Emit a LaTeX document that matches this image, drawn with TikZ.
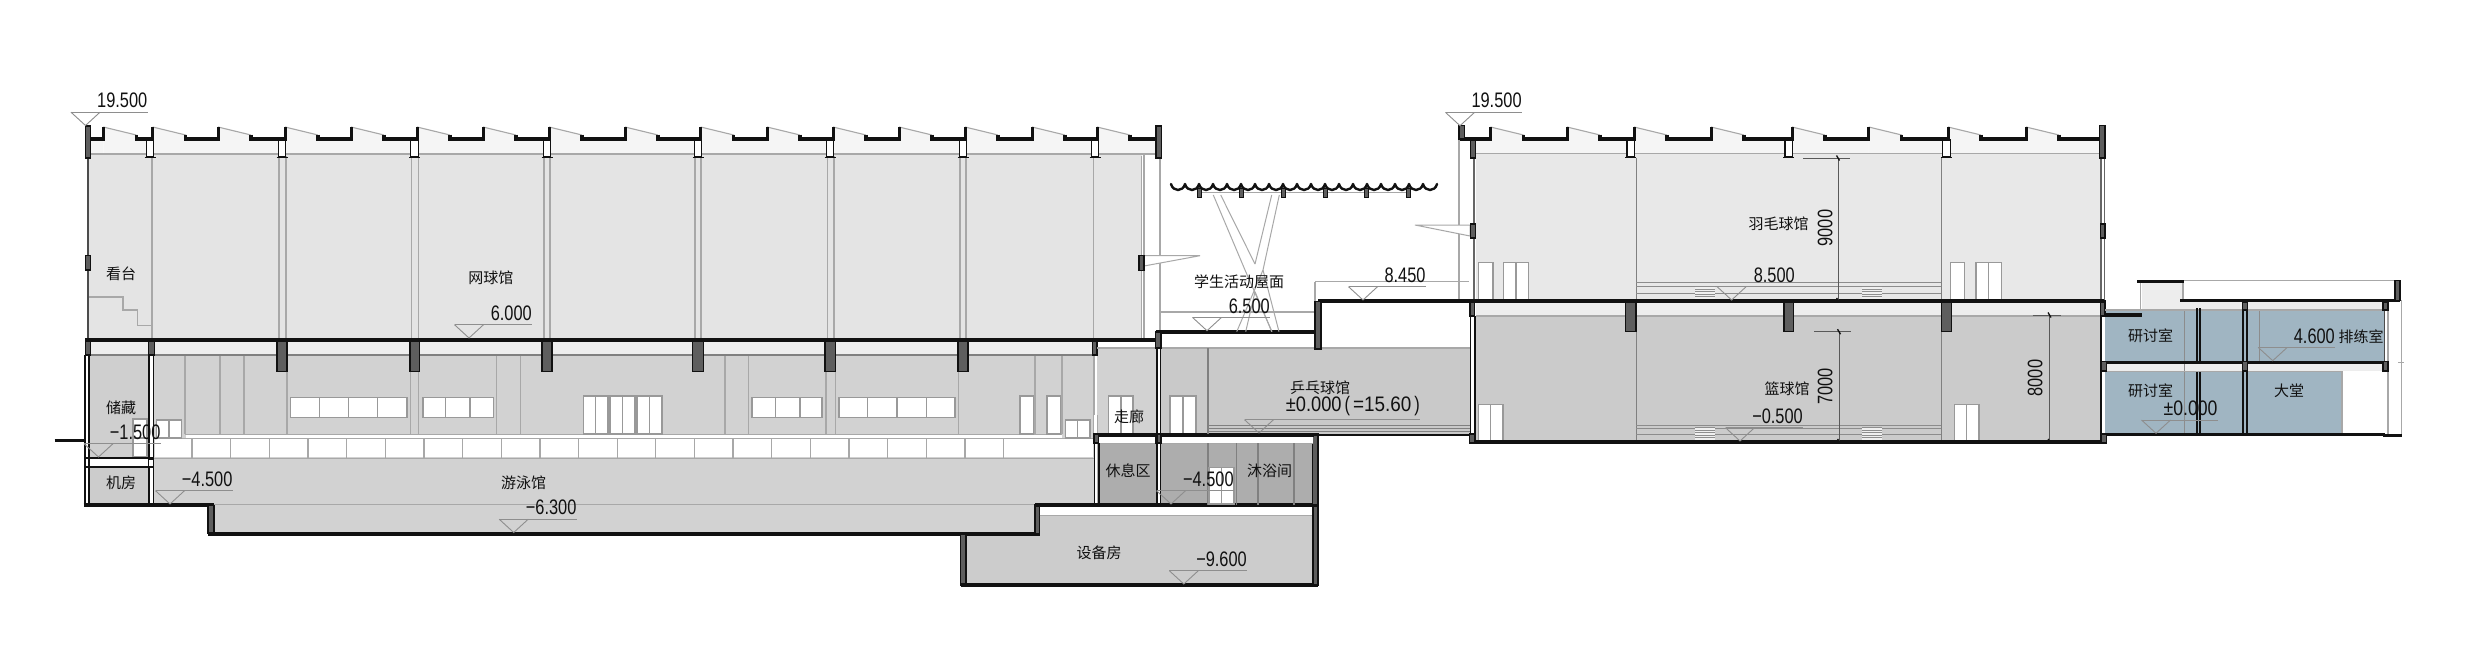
\documentclass[tikz,border=0pt]{standalone}
\usepackage{graphicx}
\usepackage{fontspec}
\setmainfont{Liberation Sans}
\newfontfamily\cjk{Noto Sans CJK SC}
\definecolor{gln}{HTML}{A8A8A8}
\definecolor{glt}{HTML}{8E8E8E}
\definecolor{pierc}{HTML}{5E5E5E}
\definecolor{wln}{HTML}{999999}
\definecolor{inkc}{HTML}{111111}
\definecolor{bluer}{HTML}{A0B5C2}
\tikzset{
  gl/.style={draw=gln,line width=1.3pt},
  gt/.style={draw=glt,line width=0.8pt},
  blk/.style={draw=inkc,line width=3.5pt,line cap=butt,line join=miter},
  dbl/.style={draw=inkc,line width=1.8pt},
  pier/.style={fill=pierc,draw=inkc,line width=1.2pt},
  win/.style={fill=white,draw=wln,line width=1.5pt},
  lab/.style={font=\cjk\fontsize{15}{15}\selectfont,text=inkc,inner sep=0pt},
  lvl/.style={font=\fontsize{21}{21}\selectfont,text=inkc,inner sep=0pt},
}
\newcommand{\cond}[1]{\scalebox{0.78}[1]{#1}}
\newcommand{\lev}[5]{% name, apex x, apex y, right x, text
  \draw[gt,line width=0.9pt] ({#2-14.5},{#3-13.3})--(#2,#3)--({#2+14.5},{#3-13.3});
  \draw[gt,line width=0.9pt] ({#2-14.5},{#3-13.3})--(#4,{#3-13.3});
  \node[lvl,anchor=south east] (#1) at (#4,{#3-17.3}) {#5};}
\newcommand{\lab}[4]{\node[lab] (#1) at (#2,#3) {#4};}
\newcommand{\saw}[3]{% peak, next peak, ceiling
  \fill[black!4] (#1,127)--({#1+33},135)--({#1+33},139)--(#2,139)--(#2,#3)--(#1,#3)--cycle;
  \draw[gl,line width=1.1pt] (#1,127)--({#1+33},135);
  \draw[draw=inkc,line width=3.4pt,line join=miter] ({#1+33},134.5)--({#1+33},139)--(#2,139);}
\newcommand{\tooth}[1]{\draw[draw=inkc,line width=3pt] (#1,140.7)--(#1,127);}
\newcommand{\truss}[1]{%
  \draw[fill=white,draw=inkc,line width=1.2pt] ({#1-3.8},140)rectangle({#1+3.8},157);
  \draw[draw=inkc,line width=1.8pt] ({#1-5.5},157.5)--({#1+5.5},157.5);}
\newcommand{\beam}[3]{\draw[pier] (#1,340) rectangle (#2,#3);}
\newcommand{\hatchbox}[4]{%
  \fill[black!6] (#1,#3) rectangle (#2,#4);
  \pgfmathsetmacro{\hsec}{#3+2.5}
  \foreach \yy in {#3,\hsec,...,#4}{\draw[gt,line width=0.6pt] (#1,\yy)--(#2,\yy);}}
\begin{document}
\begin{tikzpicture}[x=1pt,y=-1pt]
\useasboundingbox (0,0) rectangle (2480,654);
\fill[white] (0,0) rectangle (2480,654);
% ---------- large fills
\fill[black!10.5] (89,154) rectangle (1142,338);
\fill[black!6.5] (89,341) rectangle (1094,355);
\fill[black!17.5] (153,355) rectangle (1094,505);
\fill[black!17.5] (214,505) rectangle (1035,534);
\fill[black!19] (88,355) rectangle (149,458);
\fill[black!20] (88,467) rectangle (149,505);
\fill[black!17.5] (1097,348) rectangle (1156,434);
\fill[black!21] (1161,348) rectangle (1470,434);
\fill[black!32] (1097,443) rectangle (1156,505);
\fill[black!32] (1161,443) rectangle (1313,505);
\fill[black!20] (966,534) rectangle (1313,585);
\fill[black!20] (1039,515) rectangle (1313,534);
\fill[black!9] (1476,153) rectangle (2100,300);
\fill[black!7] (1476,302) rectangle (2100,316);
\fill[black!20.5] (1476,316) rectangle (2100,441);
% right block
\fill[bluer] (2105,310) rectangle (2385,361);
\fill[bluer] (2105,371) rectangle (2342,433);
\fill[black!7] (2105,364) rectangle (2385,371);
\fill[black!7] (2141.7,302) rectangle (2385,310);
\fill[black!7] (2141.7,283) rectangle (2182,302);
% ---------- roofs: tennis
\foreach \p/\n in {103.3/152.7,152.7/218,218/285,285/351,351/417,417/483,483/549,549/625,625/700.7,700.7/767,767/833,833/899,899/965,965/1032,1032/1097}{\saw{\p}{\n}{154}}
\saw{1097}{1157}{154}
\fill[black!4] (88,140) rectangle (103.3,154);
\draw[draw=inkc,line width=3.4pt] (87,139)--(103.3,139);
\foreach \p in {103.3,152.7,218,285,351,417,483,549,625,700.7,767,833,899,965,1032,1097}{\tooth{\p}}
\draw[gl] (89,154)--(1157,154);
% roofs: gym
\foreach \p/\n in {1490.5/1567,1567/1634,1634/1711,1711/1792,1792/1868.7,1868.7/1948,1948/2026}{\saw{\p}{\n}{153.3}}
\saw{2026}{2100}{153.3}
\fill[black!4] (1476,140) rectangle (1490.5,153.3);
\draw[draw=inkc,line width=3.4pt] (1460,139)--(1490.5,139);
\foreach \p in {1490.5,1567,1634,1711,1792,1868.7,1948,2026}{\tooth{\p}}
\draw[gl,line width=1pt] (1476,153.3)--(2100,153.3);
% ---------- tennis verticals
\foreach \x in {152,279,286,411.7,418.4,544,550,695,701,827.5,834,960,966,1093.6,1141.8}{\draw[gl] (\x,156)--(\x,338);}
\draw[gl] (1144,154)--(1144,338);
\draw[gl] (1160,158)--(1160,332);
\foreach \x in {150,282,414.5,547,698,830,963,1095}{\truss{\x}}
% stand
\draw[gl] (89,297)--(123,297)--(123,310)--(137.7,310)--(137.7,325.3)--(152,325.3);
% outer left wall
\draw[dbl,draw=black!70,line width=2.4pt] (87.7,158)--(87.7,338);
\draw[pier] (85.5,126) rectangle (90.6,158);
\draw[pier] (85.5,255.7) rectangle (90.6,270);
\draw[pier] (1156,126) rectangle (1161.5,158);
% ---------- pool hall
\fill[white] (185.5,434.3) rectangle (1062,438.3);
\fill[white] (154.7,439.3) rectangle (1093,457.3);
\draw[gl,line width=1pt] (154,438.8)--(1094,438.8);
\draw[gl,line width=1pt] (154,458)--(1094,458);
\foreach \x in {192,230.65,...,1042}{\draw[gl] (\x,439)--(\x,458);}
\foreach \x in {185,220,244,287,410.5,418.8,496.7,520.4,725,748.3,826,835.3,958.3,1035,1062}{\draw[gl] (\x,355)--(\x,434);}
\draw[gl] (1094,348)--(1094,434);
\draw[gl,draw=black!50] (89,355)--(1094,355);
\draw[gl,line width=1pt] (185,434)--(1062,434);
% windows
\draw[win] (290.3,397.7) rectangle (407,417.7);
\foreach \x in {319.5,348.5,377.5}{\draw[wln,line width=1.2pt] (\x,397.7)--(\x,417.7);}
\draw[win] (422.8,397.7) rectangle (493.5,417.7);
\foreach \x in {445.5,470}{\draw[wln,line width=1.2pt] (\x,397.7)--(\x,417.7);}
\draw[win] (752,397.7) rectangle (822,417.7);
\foreach \x in {775.3,800}{\draw[wln,line width=1.2pt] (\x,397.7)--(\x,417.7);}
\draw[win] (839,397.7) rectangle (955,417.7);
\foreach \x in {867.7,897,926.3}{\draw[wln,line width=1.2pt] (\x,397.7)--(\x,417.7);}
% doors
\foreach \a/\b in {583.3/608,610/635,637/662,1108.7/1133,1170/1196}{
  \draw[win] (\a,396) rectangle (\b,434);
  \draw[wln,line width=1.4pt] ({(\a+\b)/2},396)--({(\a+\b)/2},434);}
\foreach \a/\b in {1020/1033.5,1047/1060.5}{\draw[win] (\a,396) rectangle (\b,434);}
\foreach \a/\b in {156.6/181.6,1065.4/1090}{
  \draw[win] (\a,420) rectangle (\b,438);
  \draw[wln,line width=1.4pt] ({(\a+\b)/2},420)--({(\a+\b)/2},438);}
\draw[win] (133,419) rectangle (146.8,457);
\draw[wln,line width=1.2pt] (133,438)--(146.8,438);
\fill[white] (1094,415) rectangle (1097.7,434);
\draw[gl,line width=1pt] (1097.7,415)--(1097.7,434);
% tennis slab and beams
\beam{277}{287}{371.7}\beam{410}{419.6}{371.7}\beam{542}{552}{371.7}
\beam{692.7}{703.4}{371.7}\beam{825}{835.5}{371.7}\beam{958}{968}{371.7}
\beam{85.5}{90.6}{355}\beam{148.7}{154.7}{355}\beam{1092.5}{1097}{355}
\draw[blk] (85,340)--(1156,340);
% basement left walls
\draw[dbl] (84.7,355)--(84.7,505);
\draw[dbl] (88.6,355)--(88.6,505);
\draw[dbl] (148.7,355)--(148.7,505);
\draw[dbl] (153.5,355)--(153.5,505);
\draw[dbl] (84,458)--(154,458);
\draw[dbl] (84,466.7)--(154,466.7);
\draw[pier,fill=white] (148.5,459) rectangle (153.5,466.7);
\draw[blk] (54.6,440.7)--(84.7,440.7);
\draw[blk] (83.5,505)--(214,505);
\draw[pier] (208,505) rectangle (214,533);
\draw[blk] (208,534)--(1039.5,534);
\draw[gl,line width=1pt] (214,504.5)--(1035,504.5);
\draw[pier] (1035,505) rectangle (1039.5,534);
\draw[blk] (1035,505)--(1318,505);
\fill[white] (1039.5,507) rectangle (1313,515);
\draw[gl,line width=1pt] (1039.5,515)--(1313,515);
% equipment room
\draw[pier] (960.5,534) rectangle (966,585);
\draw[blk] (960.5,585)--(1318,585);
\draw[pier] (1313,506) rectangle (1318,585);
\draw[pier] (1312.8,434) rectangle (1318,505);
% corridor, rest, showers
\draw[gl] (1097,348)--(1156,348);
\draw[blk] (1094,434.8)--(1314,434.8);
\fill[white] (1098,436.5) rectangle (1313,443);
\draw[gl,line width=1pt] (1098,443)--(1313,443);
\draw[pier] (1094,434) rectangle (1098.5,443);
\draw[pier] (1155.6,434) rectangle (1161,443);
\draw[dbl] (1094.5,443)--(1094.5,505);
\draw[dbl] (1099,443)--(1099,505);
\draw[dbl] (1156.7,348)--(1156.7,505);
\draw[dbl] (1160.5,348)--(1160.5,505);
\foreach \x in {1207.9,1236.8,1258,1294}{\draw[gl,draw=black!50] (\x,443)--(\x,505);}
\draw[win] (1209,467.7) rectangle (1234,504);
\draw[wln,line width=1.2pt] (1221.5,467.7)--(1221.5,504);
\draw[wln,line width=1pt] (1209,490)--(1234,490);
% table tennis
\draw[gl] (1161,348)--(1470,348);
\draw[gl,draw=black!50] (1208,348)--(1208,434);
\foreach \y in {425,428.3,431.7}{\draw[gl,draw=black!50,line width=0.7pt] (1208,\y)--(1470,\y);}
\draw[draw=inkc,line width=1.8pt] (1161,434.8)--(1470,434.8);
% roof terrace
\draw[gl] (1160,312)--(1315,312);
\draw[blk] (1156,332)--(1318,332);
\draw[pier] (1155.6,332) rectangle (1161,348);
\draw[blk] (1097,340)--(1156,340);
\draw[gl] (1315,281.7)--(1469,281.7);
\draw[gl] (1315,281.7)--(1315,301);
\draw[gl] (1459,139)--(1459,301);
\draw[blk] (1318,301)--(1470,301);
\draw[pier] (1315,301.7) rectangle (1321,349);
% canopy
\foreach \a/\b/\c/\d in {1213.3/195/1245/270,1220.7/195/1255/264,1271.7/195/1255/264,1279.3/195/1263/270}{\draw[gl,line width=1pt] (\a,\b)--(\c,\d);}
\draw[gl,line width=1pt] (1245,270)--(1272,331.7);
\draw[gl,line width=1pt] (1263,270)--(1236.7,331.7);
\draw[gl,line width=1pt] (1255,291.7)--(1245.7,331.7);
\draw[gl,line width=1pt] (1255,291.7)--(1271.7,331.7);
\draw[gl,line width=1pt] (1279,331.7)--(1263,270);
\draw[gl,line width=1pt] (1199.7,192.7)--(1408.7,192.7);
\draw[draw=inkc,line width=2.4pt,line cap=round,line join=round] (1171,184)
 \foreach \x in {1171,1185,...,1423}{.. controls ({\x+1},188) and ({\x+4},190) .. ({\x+7},190) .. controls ({\x+10},190) and ({\x+13},188) .. ({\x+14},184)};
\foreach \x in {1199.7,1241.3,1283,1325.3,1366.7,1408.7}{\fill[pierc,draw=inkc,line width=0.6pt] ({\x-2},188) rectangle ({\x+2},197);}
% cantilevers
\draw[gl,line width=1pt,fill=white] (1144,255.7)--(1200,255.7)--(1144,266)--cycle;
\draw[pier] (1139,255.7) rectangle (1144,270.7);
\draw[gl,line width=1pt,fill=white] (1415,225)--(1470,225)--(1470,236)--cycle;
% ---------- gym
\foreach \x in {1636,1941.4}{\draw[gl,draw=black!50,line width=1pt] (\x,158)--(\x,300);\draw[gl,draw=black!50,line width=1pt] (\x,316)--(\x,441);}
\foreach \y in {282.7,286.7,293.3,425,428.3,434}{\draw[gl,line width=0.9pt,draw=black!45] (1636,\y)--(1941.4,\y);}
\hatchbox{1695.4}{1714.6}{286.7}{299.3}\hatchbox{1862}{1882}{286.7}{299.3}
\hatchbox{1695.4}{1714.6}{427.3}{440.7}\hatchbox{1862}{1882}{427.3}{440.7}
\foreach \x in {1630.7,1788.7,1946.4}{\truss{\x}}
\foreach \a/\b in {1478.5/1492.8,1950.4/1964.6}{\draw[win] (\a,262.3) rectangle (\b,300);}
\foreach \a/\b in {1503.5/1528.5,1975.8/2001.3}{\draw[win] (\a,262.3) rectangle (\b,300);\draw[wln,line width=1.2pt] ({(\a+\b)/2},262.3)--({(\a+\b)/2},300);}
\foreach \a/\b in {1478.5/1503,1954.4/1979}{\draw[win] (\a,404.3) rectangle (\b,441.5);\draw[wln,line width=1.2pt] ({(\a+\b)/2},404.3)--({(\a+\b)/2},441.5);}
\draw[gl] (1476,316)--(2100,316);
\draw[dbl,draw=black!60] (1474,158)--(1474,300);
\draw[dbl,draw=black!60] (2101,158)--(2101,300);
\draw[dbl,draw=black!60,line width=1pt] (2104,158)--(2104,300);
\draw[dbl] (1470.5,316)--(1470.5,442);
\draw[dbl] (1475,316)--(1475,442);
\draw[dbl] (2101,316)--(2101,442);
\draw[pier] (1459,125.7) rectangle (1464.6,139);
\draw[pier] (1470.4,140) rectangle (1475.4,158);
\draw[pier] (1470.4,224) rectangle (1475.4,238);
\draw[pier] (2099.5,125.7) rectangle (2105,158);
\draw[pier] (2100.5,224) rectangle (2105,238);
\draw[pier] (1625.4,301) rectangle (1636,331.7);
\draw[pier] (1784,301) rectangle (1793.7,331.7);
\draw[pier] (1941.4,301) rectangle (1951.3,331.7);
\draw[pier] (1470,301) rectangle (1474.5,316);
\draw[pier] (2100.5,301) rectangle (2105,316);
\draw[blk] (1470,301)--(2104,301);
\draw[blk] (1469,442)--(2106.6,442);
\draw[pier] (1469.5,434) rectangle (1474.5,442.7);
\draw[pier] (2100.8,434) rectangle (2106.6,442.7);
% dimensions
\foreach \xa/\xb/\xc/\ya/\yb in {1838/1803/1850/158/300,1839/1814/1851/331.7/441,2049.5/2032.5/2060.6/315/441}{
  \draw[gt,line width=0.8pt,draw=black!65] (\xa,\ya)--(\xa,\yb);
  \draw[gt,line width=0.8pt,draw=black!65] (\xb,\ya)--(\xc,\ya);
  \draw[draw=inkc,line width=1.3pt] ({\xa-1.5},{\ya-2.5})--({\xa+1.5},{\ya+2.5});
  \draw[draw=inkc,line width=1.3pt] ({\xa-1.5},{\yb-2})--({\xa+1.5},{\yb+2});}
% ---------- right block
\foreach \x in {2184.3}{\draw[gl,draw=black!45,line width=0.9pt] (\x,310)--(\x,433);}
\draw[gl,draw=black!45,line width=0.9pt] (2259.3,310)--(2259.3,361);
\draw[gl] (2342,371)--(2342,433);
\draw[gl] (2105,310)--(2385,310);
\draw[gl,line width=1pt] (2140,283)--(2140,310);
\draw[gl] (2183,283)--(2183,300);
\draw[gl] (2184,280.7)--(2395,280.7);
\draw[gl] (2388,300)--(2388,436);
\draw[gl] (2401.7,300)--(2401.7,436);
\draw[gl,line width=1pt] (2398,362)--(2404,362);
\draw[blk] (2137.3,281.7)--(2184.3,281.7);
\draw[blk] (2180,300.7)--(2400,300.7);
\draw[blk] (2105,315)--(2142,315);
\foreach \y/\z in {308/361,371/433}{
  \draw[dbl] (2196.7,\y)--(2196.7,\z);
  \draw[dbl] (2200,\y)--(2200,\z);}
\draw[dbl] (2243.3,310)--(2243.3,433);
\draw[dbl] (2247.3,310)--(2247.3,433);
\draw[dbl,draw=black!70] (2384.5,310)--(2384.5,361);
\draw[blk] (2101.7,362.3)--(2388,362.3);
\draw[gl,line width=1pt] (2105,371)--(2342,371);
\draw[blk] (2103,434.3)--(2385,434.3);
\draw[draw=inkc,line width=3.6pt] (2383,435.5)--(2402,435.5);
\draw[pier] (2395,280.7) rectangle (2400,300.7);
\draw[pier] (2242.5,302) rectangle (2247.5,310);
\draw[pier] (2383,302) rectangle (2388,310);
\foreach \x in {2101.7,2242.5,2383}{\draw[pier] (\x,361.5) rectangle ({\x+5},371);}
\draw[pier] (2101.7,434) rectangle (2106.6,442.7);
% ---------- levels
\lev{la}{85.5}{125.5}{147.5}{\cond{19.500}}
\lev{lb}{469}{338}{532}{\cond{6.000}}
\lev{lc}{98.5}{457}{160.6}{\cond{−1.500}}
\lev{ld}{170}{504}{232.6}{\cond{−4.500}}
\lev{le}{513.7}{532.5}{576.6}{\cond{−6.300}}
\lev{lf}{1171}{504}{1233.8}{\cond{−4.500}}
\lev{lg}{1183.8}{584}{1247}{\cond{−9.600}}
\lev{lh}{1259}{433}{1420}{\scalebox{0.87}[1]{±0.000}\hspace{3pt}\cond{(}\hspace{3pt}\scalebox{0.9}[1]{=15.60}\hspace{3pt}\cond{)}}
\lev{li}{1207}{330.7}{1270}{\cond{6.500}}
\lev{lj}{1363}{300}{1425.7}{\cond{8.450}}
\lev{lk}{1460}{125.7}{1521.8}{\cond{19.500}}
\lev{ll}{1731.6}{300}{1795}{\cond{8.500}}
\lev{lm}{1740}{441}{1803}{\cond{−0.500}}
\lev{ln}{2156}{433.3}{2217.7}{\scalebox{0.84}[1]{±0.000}}
\lev{lo}{2272.7}{360.7}{2335}{\cond{4.600}}
% ---------- labels
\lab{ta}{121}{274}{看台}
\lab{tb}{490.8}{278}{网球馆}
\lab{tc}{121}{407.7}{储藏}
\lab{td}{121}{482.7}{机房}
\lab{te}{523.6}{483}{游泳馆}
\lab{tf}{1129}{417}{走廊}
\lab{tg}{1128}{471}{休息区}
\lab{th}{1269.5}{471}{沐浴间}
\lab{ti}{1099}{553}{设备房}
\lab{tj}{1320}{387.5}{乒乓球馆}
\lab{tk}{1239}{282}{学生活动屋面}
\lab{tl}{1778.5}{224}{羽毛球馆}
\lab{tm}{1787}{389}{篮球馆}
\lab{tn}{2150.7}{336}{研讨室}
\lab{to}{2150.7}{390.7}{研讨室}
\lab{tp}{2361}{336.7}{排练室}
\lab{tq}{2289}{390.7}{大堂}
% dimension texts
\node[lvl,rotate=90] (da) at (1825,228) {\cond{9000}};
\node[lvl,rotate=90] (db) at (1825,386.7) {\cond{7000}};
\node[lvl,rotate=90] (dc) at (2035,378) {\cond{8000}};
\end{tikzpicture}
\end{document}
